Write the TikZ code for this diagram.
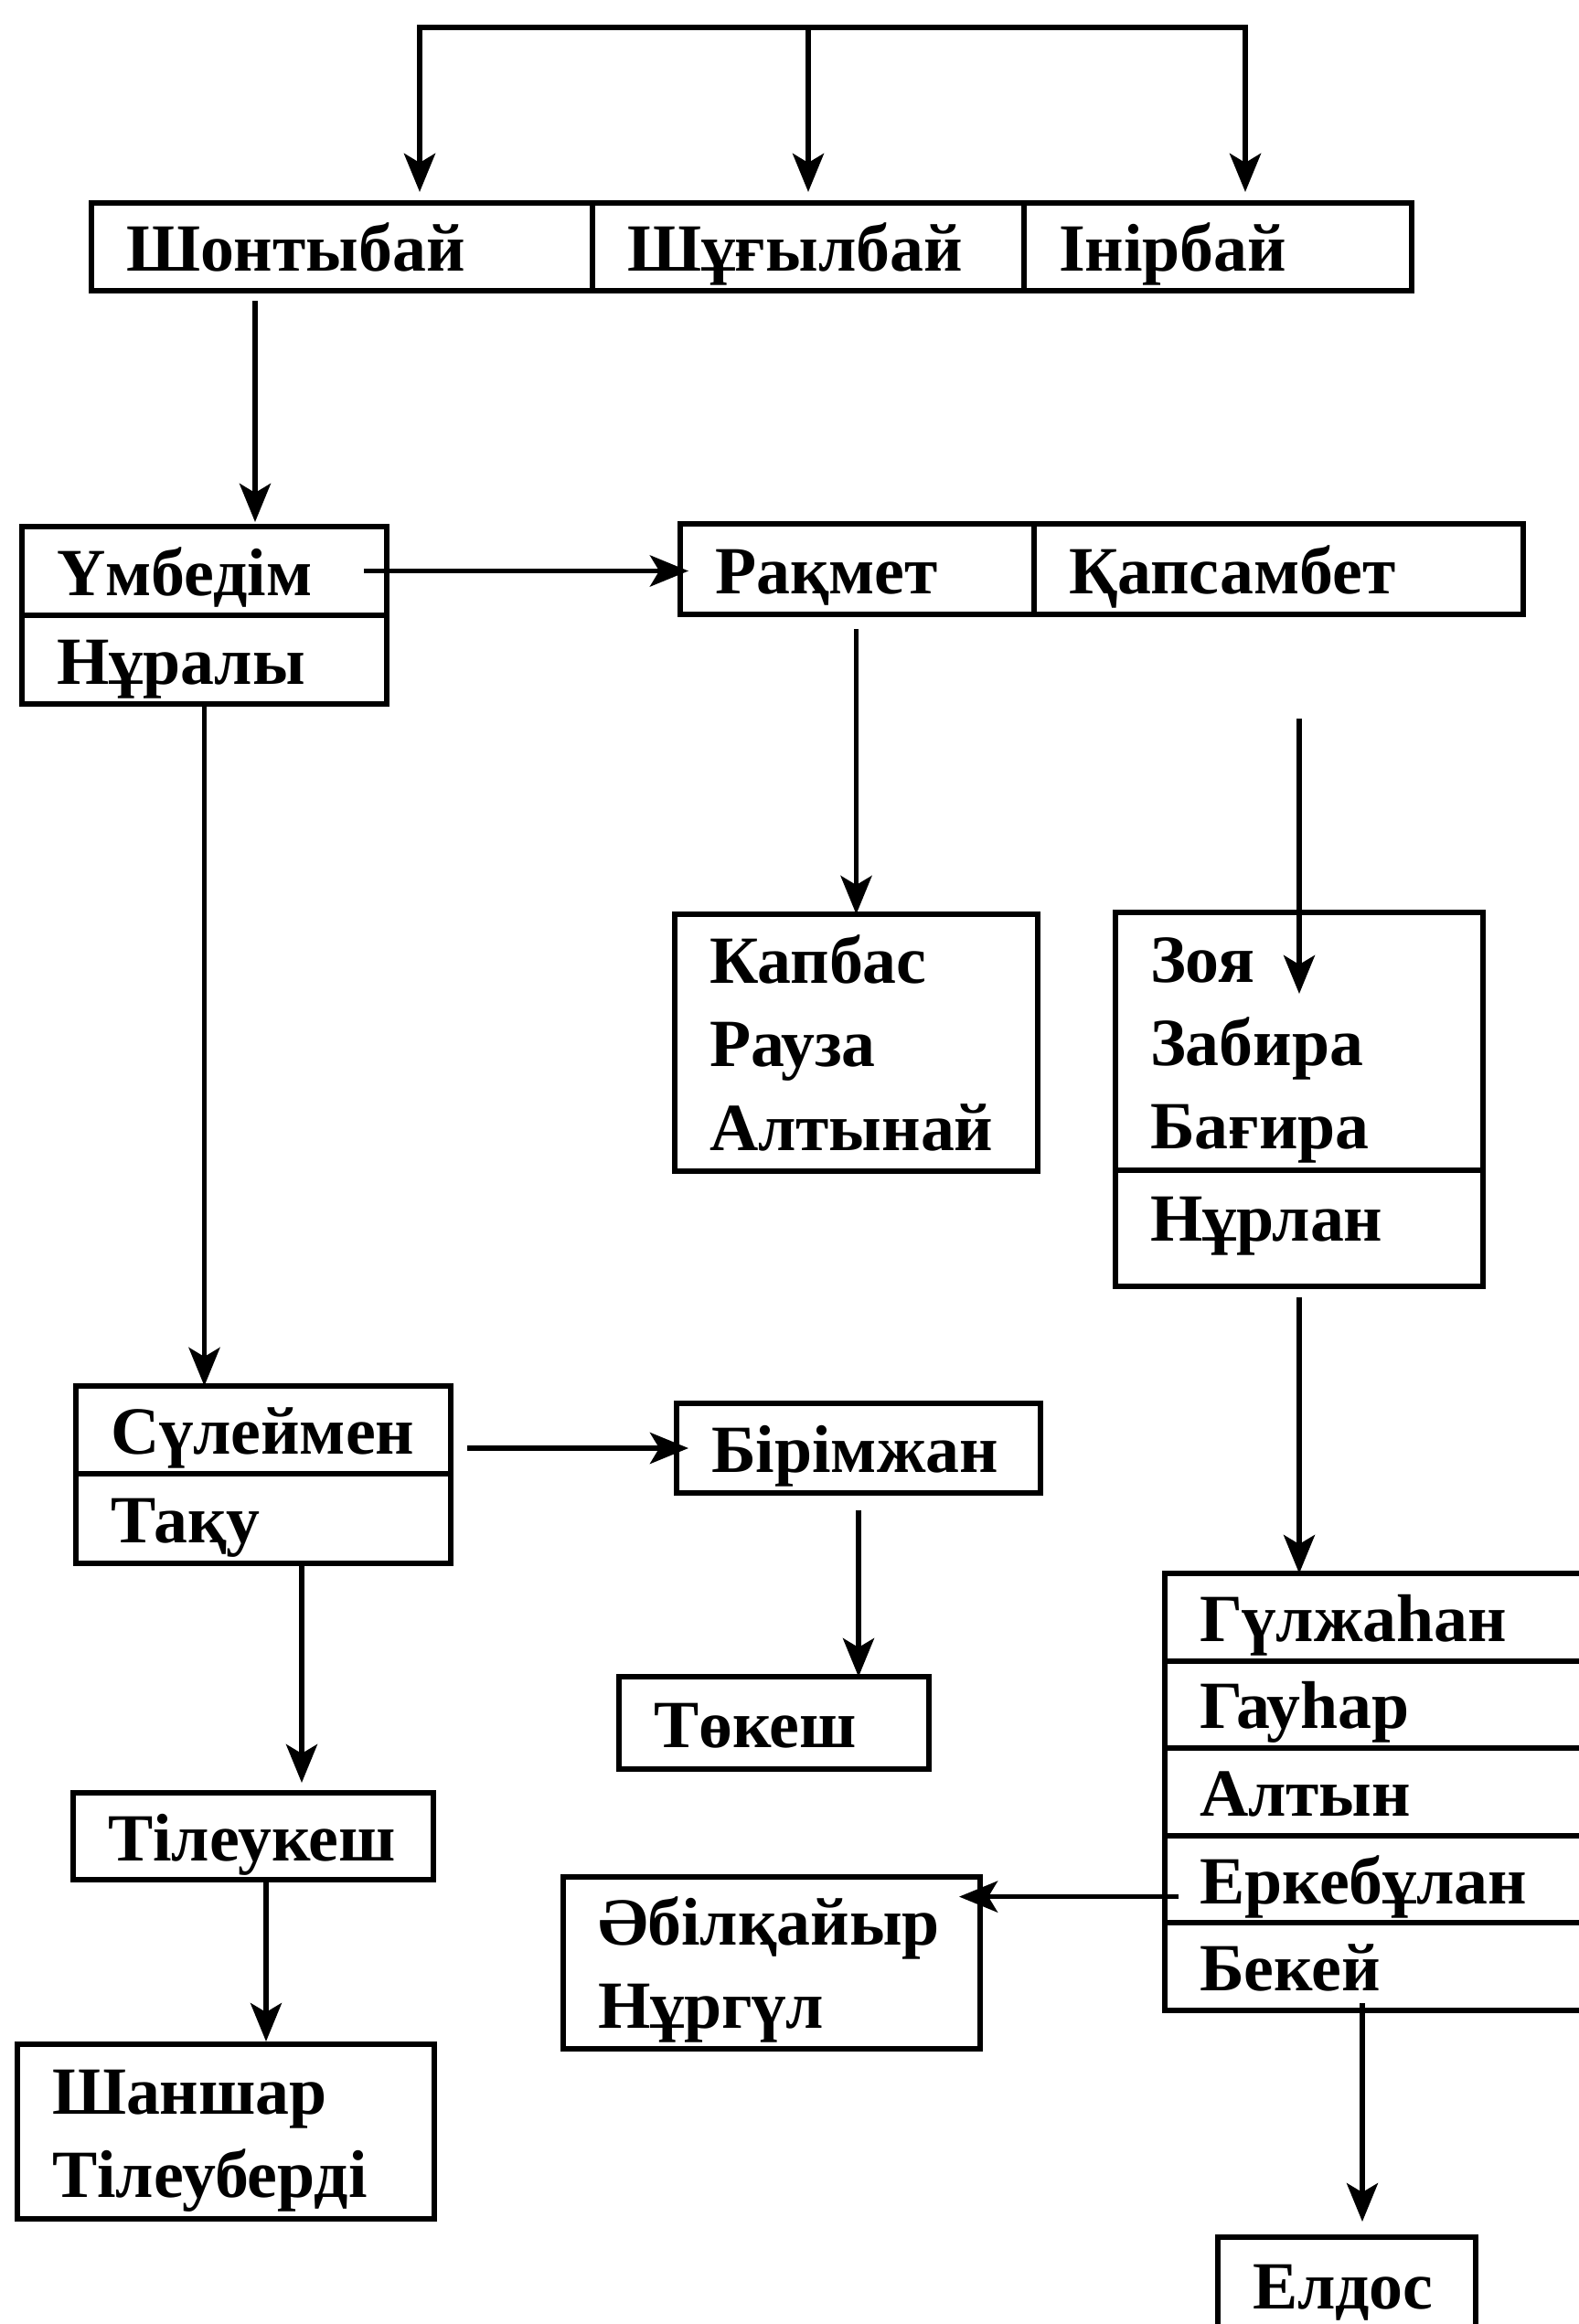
\documentclass[tikz,border=0pt]{standalone}
\usepackage{fontspec}
\setmainfont{Liberation Serif}
\usetikzlibrary{positioning, arrows.meta}
\newcommand{\namefont}{\bfseries\fontsize{21}{26}\selectfont}

\begin{document}
\begin{tikzpicture}[
    cell/.style={draw, line width=1.7pt, outer sep=0pt, anchor=north west,
      inner xsep=0.38cm, inner ysep=0pt, text width=#1, align=left,
      font=\namefont, text height=0.62cm, text depth=0.09cm},
    link/.style={->, line width=1.6pt},
    >={Stealth[length=4.2mm, width=3.4mm, inset=1mm]}
  ]
  \useasboundingbox (0,0) rectangle (17.27,-25.42);
  \clip (0,0) rectangle (17.27,-25.42);

  % --- Top row ---
  \node[cell=4.72cm, minimum height=0.96cm] (shontybai) at (1.00,-2.22) {Шонтыбай};
  \node[cell=3.96cm, minimum height=0.96cm, right=0pt of shontybai] (shugylbai) {Шұғылбай};
  \node[cell=3.48cm, minimum height=0.96cm, right=0pt of shugylbai] (inirbai) {Інірбай};
  \coordinate (barL) at (4.59,-0.30);
  \coordinate (barR) at (13.62,-0.30);

  % --- Left branch ---
  \node[cell=3.23cm, minimum height=0.97cm] (umbedim) at (0.24,-5.76) {Үмбедім};
  \node[cell=3.23cm, minimum height=0.97cm, below=0pt of umbedim] (nuraly) {Нұралы};
  \node[cell=3.34cm, minimum height=0.96cm] (suleimen) at (0.83,-15.16) {Сүлеймен};
  \node[cell=3.34cm, minimum height=0.98cm, below=0pt of suleimen] (taqu) {Тақу};
  \node[cell=3.18cm, minimum height=0.95cm] (tileukesh) at (0.80,-19.61) {Тілеукеш};
  \node[cell=3.80cm, minimum height=1.91cm, text depth=1.01cm] (shanshar) at (0.19,-22.36)
    {Шаншар\\Тілеуберді};

  % --- Middle column ---
  \node[cell=3.11cm, minimum height=0.99cm] (raqmet) at (7.44,-5.73) {Рақмет};
  \node[cell=4.59cm, minimum height=0.99cm, right=0pt of raqmet] (qapsambet) {Қапсамбет};
  \node[cell=3.21cm, minimum height=2.81cm, text depth=1.92cm] (kapbas) at (7.38,-10.00)
    {Капбас\\Рауза\\Алтынай};
  \node[cell=3.22cm, minimum height=0.98cm] (birimzhan) at (7.40,-15.35) {Бірімжан};
  \node[cell=2.63cm, minimum height=1.01cm] (tokesh) at (6.77,-18.34) {Төкеш};
  \node[cell=3.80cm, minimum height=1.88cm, text depth=1.01cm] (abilqaiyr) at (6.16,-20.53)
    {Әбілқайыр\\Нұргүл};

  % --- Right column ---
  \node[cell=3.26cm, minimum height=2.82cm, text depth=1.92cm] (zoya) at (12.20,-9.98)
    {Зоя\\Забира\\Бағира};
  \node[cell=3.26cm, minimum height=1.27cm, text depth=0.35cm, below=0pt of zoya] (nurlan) {Нұрлан};
  \node[cell=4.04cm, minimum height=0.956cm] (gulzhahan) at (12.74,-17.21) {Гүлжаһан};
  \node[cell=4.04cm, minimum height=0.956cm, below=0pt of gulzhahan] (gauhar) {Гауһар};
  \node[cell=4.04cm, minimum height=0.956cm, below=0pt of gauhar] (altyn) {Алтын};
  \node[cell=4.04cm, minimum height=0.956cm, below=0pt of altyn] (erkebulan) {Еркебұлан};
  \node[cell=4.04cm, minimum height=0.956cm, below=0pt of erkebulan] (bekei) {Бекей};
  \node[cell=2.06cm, minimum height=1.04cm] (eldos) at (13.32,-24.47) {Елдос};

  % --- Connectors ---
  \draw[line width=1.8pt, <->, shorten <=0.12cm, shorten >=0.12cm]
    (barL |- shontybai.north) -- (barL) -- (barR) -- (barR |- inirbai.north);
  \draw[link, shorten >=0.12cm] (shugylbai.north |- barL) -- (shugylbai.north);
  \draw[link, shorten <=0.11cm, shorten >=0.05cm]
    ([xshift=1.79cm]shontybai.south west) -- ([xshift=2.55cm]umbedim.north west);
  \draw[link, shorten <=-0.25cm, shorten >=-0.09cm] (umbedim.east) -- (umbedim.east -| raqmet.west);
  \draw[link] (nuraly.south) -- (nuraly.south |- suleimen.north);
  \draw[link, shorten <=0.16cm] (kapbas.north |- raqmet.south) -- (kapbas.north);
  \draw[link, shorten <=1.14cm, shorten >=-0.89cm] (zoya.north |- qapsambet.south) -- (zoya.north);
  \draw[link, shorten <=0.12cm] (nurlan.south) -- (nurlan.south |- gulzhahan.north);
  \draw[link, shorten <=0.18cm, shorten >=-0.13cm] (suleimen.east |- birimzhan.west) -- (birimzhan.west);
  \draw[link, shorten <=0.19cm] (birimzhan.south) -- (birimzhan.south |- tokesh.north);
  \draw[link, shorten >=0.11cm]
    ([xshift=0.42cm]taqu.south) -- ([xshift=0.42cm]taqu.south |- tileukesh.north);
  \draw[link, shorten >=0.03cm]
    ([xshift=0.14cm]tileukesh.south) -- ([xshift=0.14cm]tileukesh.south |- shanshar.north);
  \draw[link, shorten <=-0.15cm, shorten >=-0.23cm]
    ([yshift=-0.19cm]erkebulan.west) -- ([yshift=-0.19cm]erkebulan.west -| abilqaiyr.east);
  \draw[link, shorten <=-0.08cm, shorten >=0.17cm]
    ([xshift=0.17cm]eldos.north |- bekei.south) -- ([xshift=0.17cm]eldos.north);
\end{tikzpicture}
\end{document}
